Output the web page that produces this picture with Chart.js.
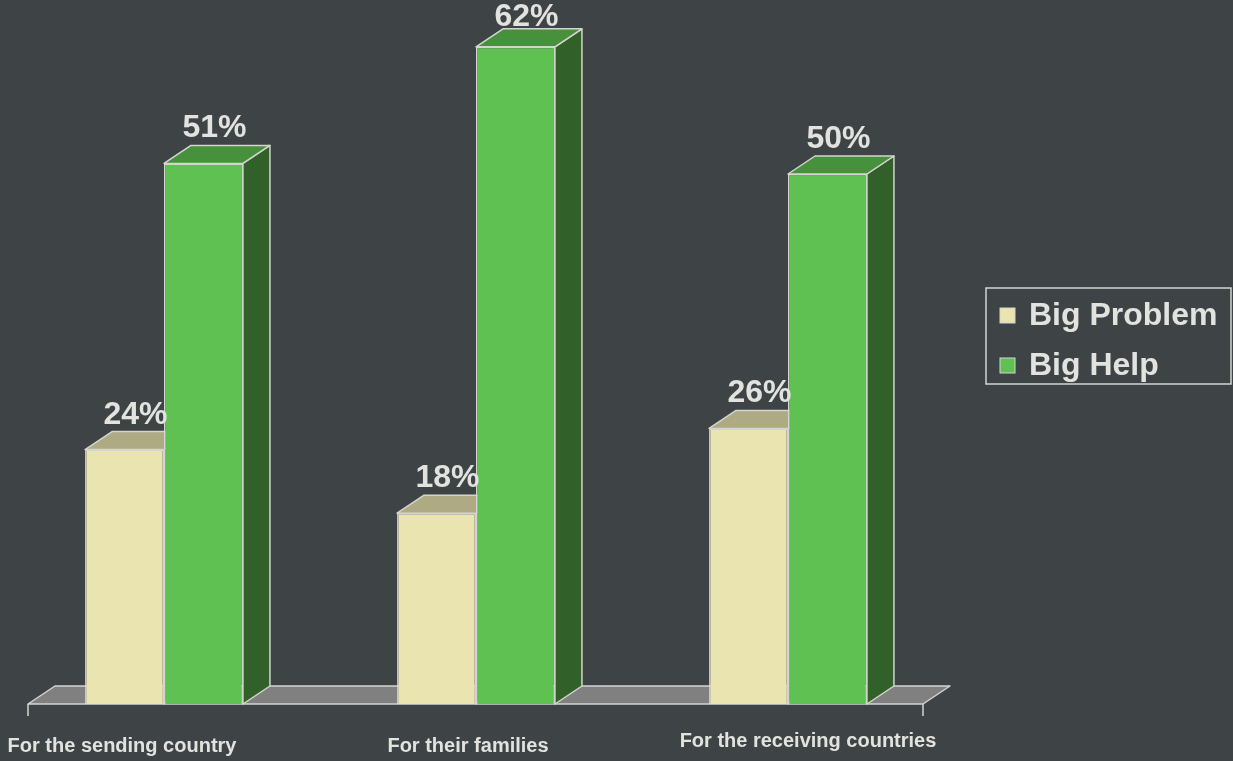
<!DOCTYPE html>
<html lang="en">
<head>
  <meta charset="UTF-8">
  <title>Big Problem / Big Help</title>
  <style>
body {
  margin: 0;
  padding: 0;
  background: #3e4445;
}

.chart-box {
  width: 1233px;
  height: 761px;
  position: relative;
}
  </style>
</head>
<body>

  <div class="chart-box">
    <canvas id="helpChart"></canvas>
  </div>

  <script src="https://cdn.jsdelivr.net/npm/chart.js"></script>

  <script>
    // Data
    const categories = ['For the sending country', 'For their families', 'For the receiving countries'];
    const seriesNames = ['Big Problem', 'Big Help'];
    const bigProblem = [24, 18, 26];
    const bigHelp = [51, 62, 50];

    // look
    const FONT = '"Liberation Sans", Arial, sans-serif';
    const TEXT = '#e2e2de';
    const EDGE = '#d4d4d0';
    const DEPTH_X = 27;   // 3d depth offset
    const DEPTH_Y = -18;
    const faces = [
      { front: '#eae4b0', top: '#aeaa84', side: '#78745a' },
      { front: '#5ec152', top: '#48913c', side: '#316029' }
    ];
    // label nudges relative to category centre (x, y)
    const labelShift = [[-42, 0], [-8, 0], [20, -5]];

    function poly(ctx, pts, fill) {
      ctx.beginPath();
      ctx.moveTo(pts[0][0], pts[0][1]);
      for (let i = 1; i < pts.length; i++) ctx.lineTo(pts[i][0], pts[i][1]);
      ctx.closePath();
      ctx.fillStyle = fill;
      ctx.fill();
      ctx.stroke();
    }

    // floor + top/side faces of the bars, drawn under the front faces
    const depthPlugin = {
      id: 'depth',
      beforeDatasetsDraw(chart) {
        const ctx = chart.ctx;
        const area = chart.chartArea;
        const y0 = area.bottom;
        const fl = area.left + 20, fr = area.right - 21;
        ctx.save();
        ctx.strokeStyle = EDGE;
        ctx.lineWidth = 1.5;
        ctx.lineJoin = 'round';
        poly(ctx, [[fl, y0], [fr, y0], [fr + DEPTH_X, y0 + DEPTH_Y], [fl + DEPTH_X, y0 + DEPTH_Y]], '#808080');
        ctx.beginPath();
        ctx.moveTo(fl, y0); ctx.lineTo(fl, y0 + 12);
        ctx.moveTo(fr, y0); ctx.lineTo(fr, y0 + 12);
        ctx.stroke();

        chart.data.datasets.forEach((ds, di) => {
          const meta = chart.getDatasetMeta(di);
          meta.data.forEach(bar => {
            const l = bar.x - bar.width / 2, r = bar.x + bar.width / 2;
            const t = bar.y, b = bar.base;
            poly(ctx, [[r, t], [r + DEPTH_X, t + DEPTH_Y], [r + DEPTH_X, b + DEPTH_Y], [r, b]], faces[di].side);
            poly(ctx, [[l, t], [r, t], [r + DEPTH_X, t + DEPTH_Y], [l + DEPTH_X, t + DEPTH_Y]], faces[di].top);
          });
        });
        ctx.restore();
      },
      afterDatasetsDraw(chart) {
        const ctx = chart.ctx;
        ctx.save();
        ctx.fillStyle = TEXT;
        ctx.font = 'bold 32px ' + FONT;
        ctx.textAlign = 'center';
        ctx.textBaseline = 'alphabetic';
        chart.data.datasets.forEach((ds, di) => {
          const meta = chart.getDatasetMeta(di);
          meta.data.forEach((bar, i) => {
            const ty = Math.max(bar.y + DEPTH_Y - 8, 26);
            ctx.fillText(ds.data[i] + '%', bar.x + 11, ty);
          });
        });

        // category labels
        const xs = chart.scales.x;
        ctx.font = 'bold 20px ' + FONT;
        ctx.textBaseline = 'middle';
        categories.forEach((c, i) => {
          ctx.fillText(c, xs.getPixelForValue(i) + labelShift[i][0], chart.chartArea.bottom + 42 + labelShift[i][1]);
        });
        ctx.restore();
      },
      afterDraw(chart) {
        // boxed legend on the right
        const ctx = chart.ctx;
        const lx = 986, ly = 288, lw = 245, lh = 96;
        ctx.save();
        ctx.strokeStyle = EDGE;
        ctx.lineWidth = 1.5;
        ctx.strokeRect(lx, ly, lw, lh);
        ctx.font = 'bold 32px ' + FONT;
        ctx.textBaseline = 'middle';
        ctx.textAlign = 'left';
        chart.data.datasets.forEach((ds, di) => {
          const cy = ly + 27 + di * 50;
          ctx.fillStyle = ds.backgroundColor;
          ctx.fillRect(lx + 14, cy - 7, 15, 15);
          ctx.lineWidth = 1;
          ctx.strokeRect(lx + 14, cy - 7, 15, 15);
          ctx.fillStyle = TEXT;
          ctx.fillText(ds.label, lx + 43, cy + 1);
        });
        ctx.restore();
      }
    };

    const ctxHelp = document.getElementById('helpChart').getContext('2d');

    const helpChart = new Chart(ctxHelp, {
      type: 'bar',
      data: {
        labels: categories,
        datasets: [{
          label: seriesNames[0],
          data: bigProblem,
          backgroundColor: faces[0].front,
          borderColor: EDGE,
          borderWidth: 1.5,
        }, {
          label: seriesNames[1],
          data: bigHelp,
          backgroundColor: faces[1].front,
          borderColor: EDGE,
          borderWidth: 1.5,
        }],
      },
      options: {
        responsive: true,
        maintainAspectRatio: false,
        animation: false,
        layout: {
          padding: { left: 8, right: 289, top: 15, bottom: 57 }
        },
        datasets: {
          bar: { barPercentage: 1, categoryPercentage: 0.506 }
        },
        plugins: {
          legend: { display: false },
          tooltip: { enabled: false }
        },
        scales: {
          x: { display: false },
          y: { display: false, min: 0, max: 65 }
        },
      },
      plugins: [depthPlugin]
    });
  </script>

</body>
</html>
